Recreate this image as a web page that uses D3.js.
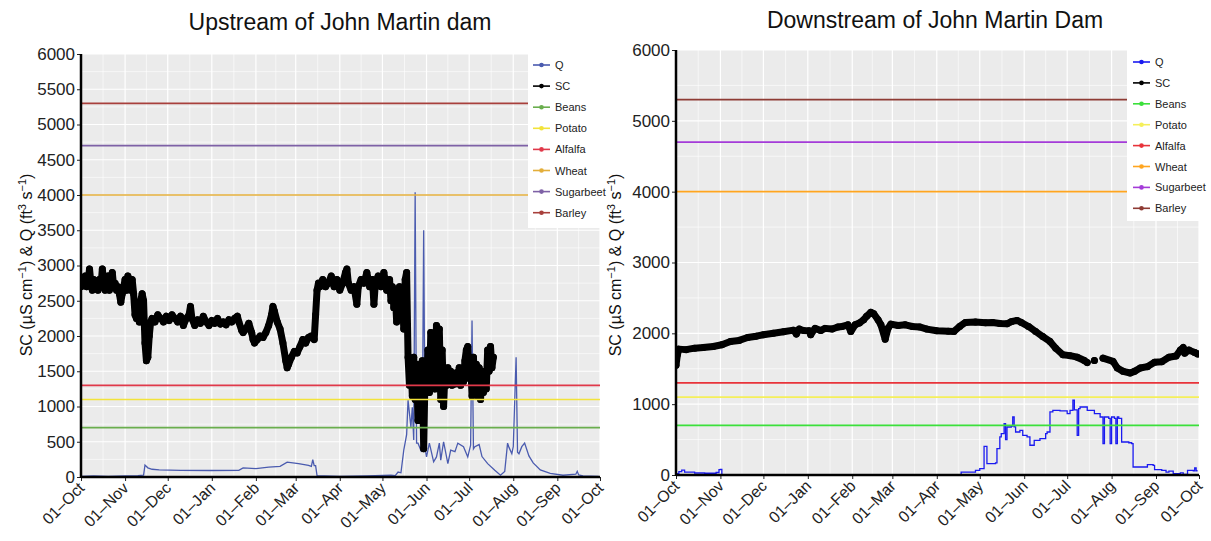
<!DOCTYPE html>
<html><head><meta charset="utf-8">
<script src="https://cdn.jsdelivr.net/npm/d3@7"></script>
<style>body{margin:0;background:#fff} svg{font-family:"Liberation Sans",Arial,sans-serif}</style>
</head><body><svg id="c" width="1211" height="541"></svg>
<script>
// ---------- DATA ----------
const xTickLabels = ["01–Oct","01–Nov","01–Dec","01–Jan","01–Feb","01–Mar","01–Apr","01–May","01–Jun","01–Jul","01–Aug","01–Sep","01–Oct"];
const legendLabels = ["Q","SC","Beans","Potato","Alfalfa","Wheat","Sugarbeet","Barley"];
const thresholdNames = ["Beans","Potato","Alfalfa","Wheat","Sugarbeet","Barley"];
const thresholdValues = [700,1100,1300,4000,4700,5300];

// Upstream SC (uS/cm), month-day of the water year
const upSC = [["10-01",2700],["10-02",2800],["10-03",2750],["10-04",2850],["10-05",2700],["10-06",2780],["10-07",2950],["10-08",2750],["10-09",2650],["10-10",2800],["10-11",2700],["10-12",2750],["10-13",2650],["10-14",2800],["10-15",2700],["10-16",2950],["10-17",2750],["10-18",2650],["10-19",2700],["10-20",2850],["10-21",2650],["10-22",2750],["10-23",2900],["10-24",2700],["10-25",2750],["10-26",2650],["10-27",2700],["10-28",2600],["10-29",2480],["10-30",2600],["10-31",2700],["11-01",2800],["11-02",2650],["11-03",2850],["11-04",2700],["11-05",2650],["11-06",2800],["11-07",2600],["11-08",2300],["11-09",2250],["11-10",2400],["11-11",2200],["11-12",2500],["11-13",2600],["11-14",2500],["11-15",1900],["11-16",1650],["11-17",1700],["11-18",2000],["11-19",2200],["11-20",2250],["11-22",2200],["11-24",2300],["11-26",2250],["11-28",2200],["11-30",2280],["12-02",2220],["12-04",2300],["12-06",2250],["12-08",2200],["12-10",2280],["12-12",2150],["12-14",2250],["12-16",2300],["12-17",2420],["12-18",2250],["12-20",2150],["12-22",2230],["12-24",2180],["12-26",2280],["12-28",2200],["12-30",2150],["01-01",2220],["01-03",2180],["01-05",2250],["01-07",2170],["01-09",2200],["01-11",2160],["01-13",2230],["01-15",2200],["01-17",2250],["01-19",2280],["01-20",2200],["01-22",2080],["01-23",2050],["01-25",2100],["01-27",2180],["01-29",2050],["01-30",1950],["01-31",1900],["02-02",1950],["02-04",2000],["02-06",1980],["02-08",2050],["02-10",2150],["02-12",2300],["02-13",2420],["02-14",2350],["02-16",2200],["02-18",2100],["02-20",1900],["02-22",1650],["02-23",1550],["02-24",1600],["02-26",1700],["02-28",1780],["03-02",1760],["03-04",1850],["03-06",1950],["03-08",1900],["03-10",1980],["03-12",2000],["03-14",1950],["03-15",2300],["03-16",2650],["03-17",2750],["03-18",2700],["03-20",2800],["03-22",2700],["03-24",2750],["03-26",2850],["03-28",2700],["03-30",2800],["04-01",2650],["04-03",2750],["04-05",2900],["04-06",2950],["04-07",2750],["04-09",2650],["04-11",2700],["04-13",2450],["04-14",2700],["04-16",2800],["04-18",2750],["04-20",2900],["04-22",2700],["04-24",2800],["04-25",2450],["04-26",2750],["04-28",2850],["04-30",2700],["05-02",2900],["05-04",2650],["05-06",2800],["05-07",2500],["05-08",2700],["05-09",2400],["05-10",2600],["05-11",2200],["05-12",2450],["05-13",2700],["05-14",2350],["05-15",2550],["05-16",2100],["05-17",2800],["05-18",2900],["05-19",1700],["05-20",1300],["05-21",1650],["05-22",1150],["05-23",1700],["05-24",1100],["05-25",1600],["05-26",800],["05-27",1500],["05-28",1150],["05-29",1650],["05-30",400],["05-31",1500],["06-01",1200],["06-02",1800],["06-03",1200],["06-04",2050],["06-05",1300],["06-06",1700],["06-07",1250],["06-08",2150],["06-09",1350],["06-10",2100],["06-11",1100],["06-12",1800],["06-13",1000],["06-14",1500],["06-15",1300],["06-16",1550],["06-17",1350],["06-18",1500],["06-19",1300],["06-20",1450],["06-21",1320],["06-22",1480],["06-23",1350],["06-24",1550],["06-25",1300],["06-26",1500],["06-27",1350],["06-28",1650],["06-29",1800],["06-30",1850],["07-01",1400],["07-02",1650],["07-03",1150],["07-04",1700],["07-05",1200],["07-06",1600],["07-07",1150],["07-08",1550],["07-09",1100],["07-10",1500],["07-11",1200],["07-12",1450],["07-13",1250],["07-14",1800],["07-15",1500],["07-16",1850],["07-17",1550],["07-18",1700]];

// Upstream Q (ft3/s)
const upQ = [["10-01",10],["10-10",15],["10-20",10],["11-01",15],["11-10",20],["11-14",25],["11-15",170],["11-17",130],["11-20",110],["11-25",100],["12-10",95],["12-31",92],["01-20",95],["01-23",130],["02-01",120],["02-10",140],["02-18",150],["02-23",210],["03-03",190],["03-10",165],["03-12",150],["03-13",245],["03-14",160],["03-15",160],["03-16",20],["04-01",10],["04-20",15],["05-07",25],["05-10",20],["05-12",70],["05-14",60],["05-16",380],["05-18",600],["05-19",1090],["05-21",710],["05-22",990],["05-23",525],["05-24",4040],["05-25",480],["05-26",480],["05-28",380],["05-29",525],["05-30",3500],["05-31",400],["06-01",285],["06-03",480],["06-06",215],["06-08",285],["06-10",480],["06-11",240],["06-13",500],["06-16",190],["06-18",380],["06-21",360],["06-23",480],["06-27",430],["06-30",285],["07-02",450],["07-03",2220],["07-04",400],["07-05",430],["07-08",460],["07-10",290],["07-14",190],["07-19",95],["07-23",25],["07-26",80],["07-28",480],["07-29",420],["07-31",330],["08-01",430],["08-03",1700],["08-04",350],["08-05",330],["08-07",430],["08-09",480],["08-12",300],["08-15",200],["08-20",100],["08-27",50],["09-05",25],["09-14",40],["09-15",80],["09-16",30],["09-19",15],["09-30",10]];

// Downstream SC (uS/cm); null = gap in record
const downSC = [["10-01",1550],["10-02",1700],["10-03",1777],["10-08",1770],["10-14",1791],["10-20",1800],["10-27",1815],["11-02",1838],["11-08",1885],["11-14",1900],["11-20",1942],["11-26",1960],["12-01",1980],["12-08",2000],["12-15",2022],["12-22",2045],["12-24",1990],["12-26",2060],["12-29",2040],["01-02",2036],["01-03",1980],["01-06",2070],["01-10",2040],["01-13",2070],["01-18",2060],["01-22",2090],["01-25",2097],["01-29",2120],["01-31",2026],["02-03",2120],["02-06",2145],["02-09",2192],["02-11",2240],["02-14",2296],["02-16",2277],["02-19",2192],["02-21",2120],["02-24",1918],["02-26",2073],["02-28",2130],["03-05",2110],["03-10",2120],["03-15",2097],["03-20",2090],["03-25",2060],["04-01",2036],["04-09",2030],["04-13",2026],["04-17",2097],["04-21",2154],["04-28",2160],["05-05",2150],["05-10",2154],["05-15",2140],["05-20",2135],["05-23",2165],["05-27",2182],["05-30",2154],["06-04",2097],["06-09",2026],["06-14",1955],["06-19",1885],["06-23",1790],["06-28",1697],["07-03",1685],["07-08",1663],["07-13",1616],["07-15",1588],["07-17",null],["07-20",1616],["07-23",null],["07-26",1650],["08-02",1604],["08-05",1510],["08-09",1463],["08-14",1440],["08-17",1463],["08-21",1510],["08-26",1530],["08-31",1592],["09-05",1600],["09-10",1663],["09-15",1680],["09-18",1763],["09-20",1800],["09-21",1720],["09-24",1763],["09-28",1730],["09-30",1710]];

// Downstream Q (ft3/s)
const downQ = [["10-01",20],["10-03",47],["10-05",70],["10-07",40],["10-14",28],["10-21",25],["10-29",35],["10-31",75],["11-01",80],["11-02",0],["04-17",0],["04-18",42],["04-28",66],["05-01",89],["05-04",405],["05-06",160],["05-12",170],["05-13",372],["05-15",537],["05-16",584],["05-18",725],["05-19",500],["05-20",678],["05-23",690],["05-24",819],["05-25",680],["05-26",607],["05-29",631],["05-31",560],["06-03",537],["06-05",420],["06-08",490],["06-12",513],["06-16",584],["06-17",607],["06-19",890],["06-21",913],["06-26",905],["07-01",866],["07-03",913],["07-05",1055],["07-06",920],["07-08",560],["07-09",937],["07-10",960],["07-15",913],["07-20",866],["07-24",819],["07-26",443],["07-27",819],["07-30",800],["07-31",443],["08-01",819],["08-03",800],["08-04",443],["08-05",820],["08-06",800],["08-08",466],["08-13",455],["08-15",443],["08-16",113],["08-24",113],["08-26",146],["08-30",136],["08-31",75],["09-05",66],["09-08",42],["09-10",55],["09-13",19],["09-18",30],["09-20",10],["09-23",66],["09-27",60],["09-28",99],["09-29",60],["09-30",60]];

// ---------- DRAW ----------
const svg = d3.select("#c");
const parseMD = s => { const [m,d] = s.split("-").map(Number); return new Date(m >= 10 ? 2016 : 2017, m-1, d); };
const startDate = new Date(2016,9,1), endDate = new Date(2017,9,1);

function panel(cfg){
  const x = d3.scaleTime().domain([startDate,endDate]).range([cfg.x0,cfg.x1]);
  const y = d3.scaleLinear().domain([0,6000]).range([cfg.yBot,cfg.yTop]);
  const g = svg.append("g");
  const clipId = "clip"+cfg.id;
  svg.append("clipPath").attr("id",clipId).append("rect")
     .attr("x",cfg.x0).attr("y",cfg.yTop).attr("width",cfg.x1-cfg.x0).attr("height",cfg.yBot-cfg.yTop);
  g.append("rect").attr("x",cfg.x0).attr("y",cfg.yTop).attr("width",cfg.x1-cfg.x0)
     .attr("height",cfg.yBot-cfg.yTop).attr("fill","#EBEBEB");
  const months = d3.timeMonth.range(startDate, d3.timeDay.offset(endDate,1));
  const mids = months.slice(0,-1).map((m,i)=> new Date((+m + +months[i+1])/2));
  g.selectAll(".vmin").data(mids).enter().append("line")
    .attr("x1",d=>x(d)).attr("x2",d=>x(d)).attr("y1",cfg.yTop).attr("y2",cfg.yBot)
    .attr("stroke","#fff").attr("stroke-width",0.6);
  g.selectAll(".hmin").data(d3.range(cfg.minor,6000,cfg.major)).enter().append("line")
    .attr("x1",cfg.x0).attr("x2",cfg.x1).attr("y1",d=>y(d)).attr("y2",d=>y(d))
    .attr("stroke","#fff").attr("stroke-width",0.6);
  g.selectAll(".vmaj").data(months).enter().append("line")
    .attr("x1",d=>x(d)).attr("x2",d=>x(d)).attr("y1",cfg.yTop).attr("y2",cfg.yBot)
    .attr("stroke","#fff").attr("stroke-width",1.2);
  g.selectAll(".hmaj").data(d3.range(0,6001,cfg.major)).enter().append("line")
    .attr("x1",cfg.x0).attr("x2",cfg.x1).attr("y1",d=>y(d)).attr("y2",d=>y(d))
    .attr("stroke","#fff").attr("stroke-width",1.2);

  const data = g.append("g").attr("clip-path",`url(#${clipId})`);
  const qLine = d3.line().x(d=>x(parseMD(d[0]))).y(d=>y(d[1])).curve(cfg.qCurve);
  data.append("path").attr("d",qLine(cfg.q)).attr("fill","none")
     .attr("stroke",cfg.colors.Q).attr("stroke-width",1.3);
  const scLine = d3.line().defined(d=>d[1]!==null).x(d=>x(parseMD(d[0]))).y(d=>y(d[1]));
  data.append("path").attr("d",scLine(cfg.sc)).attr("fill","none")
     .attr("stroke","#000").attr("stroke-width",cfg.scWidth).attr("stroke-linejoin","round").attr("stroke-linecap","round");
  data.selectAll(".scpt").data(cfg.sc.filter(d=>d[1]!==null)).enter().append("circle")
     .attr("cx",d=>x(parseMD(d[0]))).attr("cy",d=>y(d[1])).attr("r",cfg.scWidth/2).attr("fill","#000");
  thresholdNames.forEach((n,i)=>{
    data.append("line").attr("x1",cfg.x0).attr("x2",cfg.x1)
      .attr("y1",y(thresholdValues[i])).attr("y2",y(thresholdValues[i]))
      .attr("stroke",cfg.colors[n]).attr("stroke-width",1.6);
  });

  const ax = g.append("g").attr("transform",`translate(0,${cfg.yBot})`)
    .call(d3.axisBottom(x).tickValues(months).tickSize(4).tickFormat((d,i)=>xTickLabels[i]));
  ax.select(".domain").remove();
  ax.selectAll("line").attr("stroke","#222").attr("stroke-width",1);
  ax.selectAll("text").attr("font-size",16).attr("fill","#222")
    .attr("text-anchor","end").attr("dy",null).attr("y",0)
    .attr("transform","translate(4,12) rotate(-45)");
  const ay = g.append("g").attr("transform",`translate(${cfg.x0},0)`)
    .call(d3.axisLeft(y).tickValues(d3.range(0,6001,cfg.major)).tickSize(4).tickFormat(d3.format("d")));
  ay.select(".domain").remove();
  ay.selectAll("line").attr("stroke","#222");
  ay.selectAll("text").attr("font-size",17).attr("fill","#222").attr("x",-6);
  g.append("line").attr("x1",cfg.x0).attr("x2",cfg.x1).attr("y1",cfg.yBot).attr("y2",cfg.yBot)
    .attr("stroke","#000").attr("stroke-width",2.5);
  g.append("line").attr("x1",cfg.x0).attr("x2",cfg.x0).attr("y1",cfg.yTop).attr("y2",cfg.yBot+1)
    .attr("stroke","#000").attr("stroke-width",2.5);

  g.append("text").attr("x",cfg.titleX).attr("y",cfg.titleY).attr("text-anchor","middle")
    .attr("font-size",23).attr("fill","#111").text(cfg.title);
  const yl = g.append("text").attr("transform",`translate(${cfg.ylabX},${cfg.ylabY}) rotate(-90)`)
    .attr("text-anchor","middle").attr("font-size",16).attr("fill","#111");
  yl.append("tspan").text("SC (µS cm");
  yl.append("tspan").attr("dy",-6).attr("font-size",11).text("−1");
  yl.append("tspan").attr("dy",6).text(") & Q (ft");
  yl.append("tspan").attr("dy",-6).attr("font-size",11).text("3");
  yl.append("tspan").attr("dy",6).text(" s");
  yl.append("tspan").attr("dy",-6).attr("font-size",11).text("−1");
  yl.append("tspan").attr("dy",6).text(")");

  const L = cfg.legend;
  const lg = g.append("g");
  lg.append("rect").attr("x",L.x).attr("y",L.y).attr("width",L.w).attr("height",L.h).attr("fill","#fff");
  legendLabels.forEach((n,i)=>{
    const yy = L.y0 + i*L.dy;
    const c = n==="SC" ? "#000" : cfg.colors[n];
    lg.append("line").attr("x1",L.kx).attr("x2",L.kx+17).attr("y1",yy).attr("y2",yy)
      .attr("stroke",c).attr("stroke-width",1.6);
    lg.append("circle").attr("cx",L.kx+8.5).attr("cy",yy).attr("r",2.3).attr("fill",c);
    lg.append("text").attr("x",L.kx+22).attr("y",yy+4).attr("font-size",11).attr("fill","#222").text(n);
  });
}

panel({id:"L", x0:81, x1:600, yTop:54, yBot:477, major:500, minor:250,
  q:upQ, sc:upSC, scWidth:7, qCurve:d3.curveLinear,
  title:"Upstream of John Martin dam", titleX:340, titleY:30, ylabX:32, ylabY:265,
  legend:{x:528,y:53,w:80,h:175,kx:533,y0:65,dy:21.1},
  colors:{Q:"#4A5BAF",Beans:"#6AAE4E",Potato:"#F2E33A",Alfalfa:"#E0394A",Wheat:"#E3AE3A",Sugarbeet:"#7E61A6",Barley:"#A8403C"}});

panel({id:"R", x0:676, x1:1199, yTop:50, yBot:475, major:1000, minor:500,
  q:downQ, sc:downSC, scWidth:7, qCurve:d3.curveStepAfter,
  title:"Downstream of John Martin Dam", titleX:935, titleY:28, ylabX:621, ylabY:265,
  legend:{x:1127,y:49,w:80,h:172,kx:1133,y0:62,dy:20.9},
  colors:{Q:"#1A1AF0",Beans:"#3BE03B",Potato:"#F5EF5A",Alfalfa:"#E8333A",Wheat:"#FFA51F",Sugarbeet:"#A43BD8",Barley:"#8E3B34"}});
</script></body></html>
